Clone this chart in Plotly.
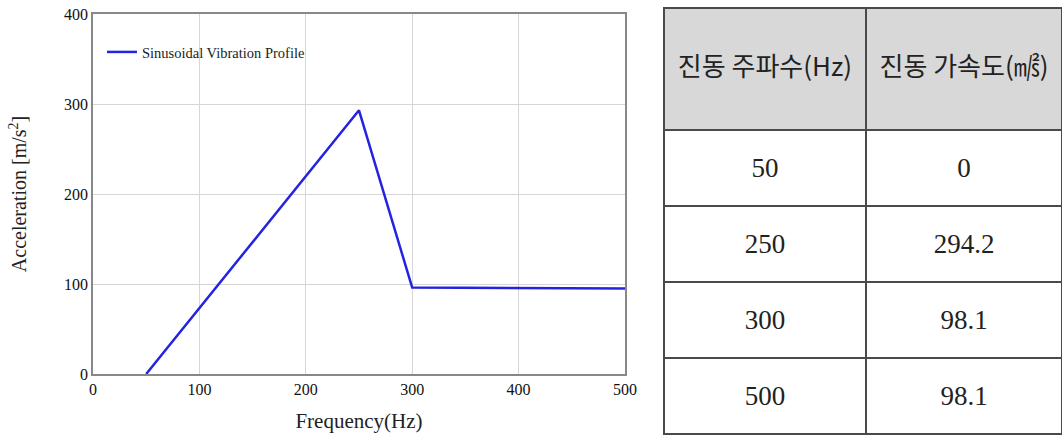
import plotly.graph_objects as go

# Chart data
freq = [50, 250, 300, 500]
accel = [0, 293, 96, 95]

# Table data
tbl_freq = ["50", "250", "300", "500"]
tbl_accel = ["0", "294.2", "98.1", "98.1"]
tbl_headers = ["진동 주파수(Hz)", "진동 가속도(㎨)"]

W, H = 1062, 439
serif = "Liberation Serif, Times New Roman, serif"


def px_x(x):
    return x / W


def px_y(y):
    return 1 - y / H


def pad_text(s, size):
    # an invisible first line pushes the text down toward the cell middle
    return "\u00a0<br><span style='font-size:%dpx'>%s</span>" % (size, s)


fig = go.Figure()
fig.add_trace(go.Scatter(
    x=freq, y=accel, mode="lines", name="Sinusoidal Vibration Profile",
    line=dict(color="#2424e0", width=2.5),
    xaxis="x", yaxis="y",
))

fig.add_trace(go.Table(
    domain=dict(x=[px_x(664), 1.0], y=[0.0, px_y(8)]),
    columnwidth=[202, 196],
    header=dict(
        values=[pad_text(h, 26) for h in tbl_headers],
        fill_color="#d8d8d8",
        line=dict(color="#4a4a4a", width=1.5),
        align="center",
        height=122,
        font=dict(family="Noto Sans CJK KR", size=24.5, color="#222222"),
    ),
    cells=dict(
        values=[[pad_text(v, 27) for v in tbl_freq], [pad_text(v, 27) for v in tbl_accel]],
        fill_color="white",
        line=dict(color="#4a4a4a", width=1.5),
        align="center",
        height=76,
        font=dict(family=serif, size=18, color="#222222"),
    ),
))

axis_common = dict(
    showline=True, mirror=True, linecolor="#888888", linewidth=1.5,
    showgrid=True, gridcolor="#d6d6d6", gridwidth=1.2,
    zeroline=False, ticks="", automargin=False,
    tickfont=dict(family=serif, size=16, color="#111111"),
)

fig.update_layout(
    width=W, height=H,
    margin=dict(l=0, r=0, t=0, b=0, autoexpand=False),
    paper_bgcolor="white", plot_bgcolor="white",
    xaxis=dict(
        domain=[px_x(93), px_x(625)], range=[0, 500], dtick=100,
        title=dict(text="Frequency(Hz)", font=dict(family=serif, size=21, color="#222222"), standoff=16),
        **axis_common,
    ),
    yaxis=dict(
        domain=[px_y(374), px_y(14)], range=[0, 400], dtick=100,
        title=dict(text="Acceleration [m/s<sup>2</sup>]", font=dict(family=serif, size=20, color="#222222"), standoff=32),
        **axis_common,
    ),
    showlegend=True,
    legend=dict(
        x=px_x(102), y=px_y(36), xanchor="left", yanchor="top",
        bgcolor="rgba(255,255,255,0)",
        font=dict(family=serif, size=14.5, color="#222222"),
    ),
)

fig.write_html("out.html", config={"displayModeBar": False},
               post_script="document.body.style.margin='0';")
